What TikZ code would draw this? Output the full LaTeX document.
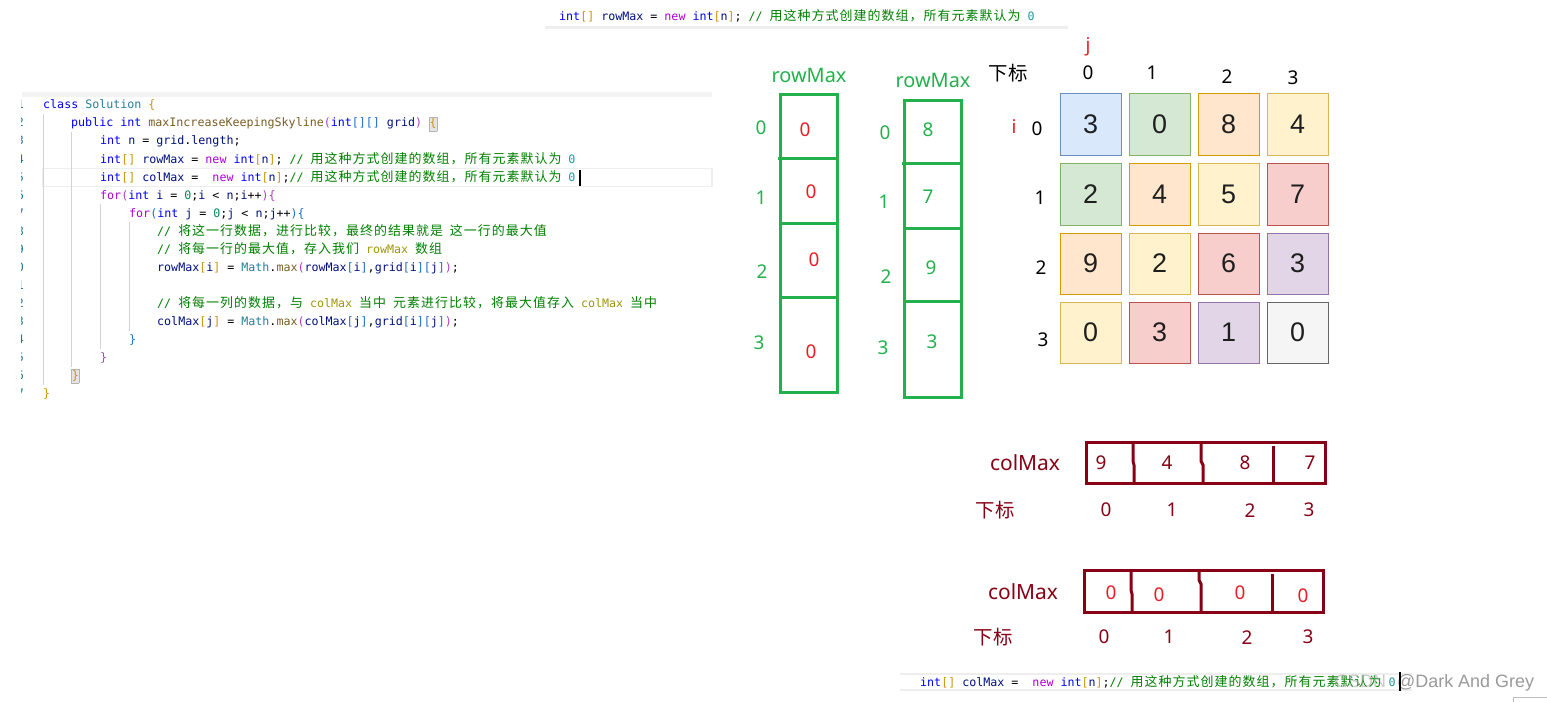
\documentclass[tikz,border=0pt]{standalone}
\usepackage{fontspec}
\newfontfamily\codef{DejaVu Sans Mono}
\newfontfamily\cjkcode[LetterSpace=8]{Noto Sans CJK SC}
\newfontfamily\labf{Noto Sans}
\newfontfamily\cjkf{Noto Sans CJK SC}
\newfontfamily\arialf{Liberation Sans}

\definecolor{colKw}{HTML}{0000FF}
\definecolor{colCtl}{HTML}{AF00DB}
\definecolor{colTy}{HTML}{267F99}
\definecolor{colFn}{HTML}{795E26}
\definecolor{colVa}{HTML}{001080}
\definecolor{colNm}{HTML}{098658}
\definecolor{colNc}{HTML}{1F9AA0}
\definecolor{colCm}{HTML}{008000}
\definecolor{colCv}{HTML}{A0960A}
\definecolor{colBy}{HTML}{C8960A}
\definecolor{colBp}{HTML}{B040C0}
\definecolor{colBb}{HTML}{1A6FD0}
\definecolor{colTxt}{HTML}{000000}
\definecolor{colBmB}{HTML}{B4B4B4}
\definecolor{colBmF}{HTML}{E4E4E4}
\definecolor{colLn}{HTML}{237893}
\definecolor{colGuide}{HTML}{D3D3D3}
\definecolor{colBand}{HTML}{EEEEEE}
\definecolor{pgreen}{HTML}{22B14C}
\definecolor{pred}{HTML}{ED1C24}
\definecolor{pdark}{HTML}{880015}
\definecolor{colWm}{HTML}{9A9A9A}
\definecolor{fBlue}{HTML}{DAE8FC}\definecolor{sBlue}{HTML}{6C8EBF}
\definecolor{fGreen}{HTML}{D5E8D4}\definecolor{sGreen}{HTML}{82B366}
\definecolor{fOrange}{HTML}{FFE6CC}\definecolor{sOrange}{HTML}{D79B00}
\definecolor{fYellow}{HTML}{FFF2CC}\definecolor{sYellow}{HTML}{D6B656}
\definecolor{fRed}{HTML}{F8CECC}\definecolor{sRed}{HTML}{B85450}
\definecolor{fPurple}{HTML}{E1D5E7}\definecolor{sPurple}{HTML}{9673A6}
\definecolor{fGray}{HTML}{F5F5F5}\definecolor{sGray}{HTML}{666666}

\newcommand\ckw[1]{\textcolor{colKw}{#1}}
\newcommand\cctl[1]{\textcolor{colCtl}{#1}}
\newcommand\cty[1]{\textcolor{colTy}{#1}}
\newcommand\cfn[1]{\textcolor{colFn}{#1}}
\newcommand\cva[1]{\textcolor{colVa}{#1}}
\newcommand\cnm[1]{\textcolor{colNm}{#1}}
\newcommand\cnc[1]{\textcolor{colNc}{#1}}
\newcommand\ccm[1]{\textcolor{colCm}{#1}}
\newcommand\ccv[1]{\textcolor{colCv}{#1}}
\newcommand\cby[1]{\textcolor{colBy}{#1}}
\newcommand\cbp[1]{\textcolor{colBp}{#1}}
\newcommand\cbb[1]{\textcolor{colBb}{#1}}
\newcommand\ccj[1]{{\cjkcode\fontsize{13}{14}\selectfont #1}}
\newcommand\bmatch[1]{{\setlength\fboxsep{0pt}\setlength\fboxrule{0.6pt}\fcolorbox{colBmB}{colBmF}{\strut #1}}}

\tikzset{
  code/.style={anchor=base west, inner sep=0pt, text=colTxt,
    font=\codef\fontsize{11.7}{14}\selectfont\frenchspacing},
  lnum/.style={anchor=base east, inner sep=0pt, text=colLn,
    font=\codef\fontsize{11.7}{14}\selectfont},
  guide/.style={draw=colGuide, line width=1bp},
  glab/.style={inner sep=0pt, text=pgreen, font=\labf\fontsize{19}{22}\selectfont},
  gtitle/.style={inner sep=0pt, text=pgreen, font=\labf\fontsize{20}{24}\selectfont},
  rval/.style={inner sep=0pt, text=pred, font=\labf\fontsize{19}{22}\selectfont},
  blab/.style={inner sep=0pt, text=black, font=\labf\fontsize{19}{22}\selectfont},
  ilab/.style={inner sep=0pt, text=pred, font=\labf\fontsize{19}{22}\selectfont},
  cjlab/.style={inner sep=0pt, font=\cjkf\fontsize{19.5}{22}\selectfont},
  dlab/.style={inner sep=0pt, text=pdark, font=\labf\fontsize{19}{22}\selectfont},
  dtitle/.style={inner sep=0pt, text=pdark, font=\labf\fontsize{21}{24}\selectfont},
  garr/.style={draw=pgreen, line width=3bp},
  darr/.style={draw=pdark, line width=3bp},
  cell/.style={minimum width=61bp, minimum height=61bp, inner sep=0pt,
    line width=1bp, text={black!88}, font=\arialf\fontsize{27}{30}\selectfont},
  cblue/.style={fill=fBlue, draw=sBlue},
  cgreen/.style={fill=fGreen, draw=sGreen},
  corange/.style={fill=fOrange, draw=sOrange},
  cyellow/.style={fill=fYellow, draw=sYellow},
  cred/.style={fill=fRed, draw=sRed},
  cpurple/.style={fill=fPurple, draw=sPurple},
  cgray/.style={fill=fGray, draw=sGray},
  wmark/.style={anchor=base west, inner sep=0pt, text=colWm, font=\arialf\fontsize{18}{20}\selectfont},
}

\begin{document}
\begin{tikzpicture}[x=1bp, y=-1bp]
\useasboundingbox (0,0) rectangle (1547,702);
\fill[white] (0,0) rectangle (1547,702);

% ---------- top snippet ----------
\fill[colBand] (545,26) rectangle (1068,29);
\node[code] (topline) at (559,21) {\ckw{int}\cby{[]} \cva{rowMax} = \cctl{new} \ckw{int}\cby{[}\cva{n}\cby{]}; \ccm{// \ccj{用这种方式创建的数组，所有元素默认为}} \cnc{0}};

% ---------- code block ----------
\fill[colBand!70] (22,92) rectangle (712,97);
\draw[colBand, line width=1.5bp] (43,168.5) rectangle (712,186.5);
\draw[guide] (43,114) -- (43,385);
\draw[guide] (71,132) -- (71,367);
\draw[guide] (100,204) -- (100,349);
\draw[guide] (129,222) -- (129,331);

\begin{scope}
\clip (21,90) rectangle (23.5,402);
\foreach \k in {1,...,17}{
  \node[lnum] at (24,{109+18*(\k-1)}) {\k};
}
\end{scope}

\node[code] (c1) at (43,109) {\ckw{class} \cty{Solution} \cby{\{}};
\node[code] (c2) at (71,127) {\ckw{public} \ckw{int} \cfn{maxIncreaseKeepingSkyline}\cbp{(}\ckw{int}\cbb{[][]} \cva{grid}\cbp{)} \bmatch{\cby{\{}}};
\node[code] (c3) at (100,145) {\ckw{int} \cva{n} = \cva{grid}.\cva{length};};
\node[code] (c4) at (100,163) {\ckw{int}\cby{[]} \cva{rowMax} = \cctl{new} \ckw{int}\cby{[}\cva{n}\cby{]}; \ccm{// \ccj{用这种方式创建的数组，所有元素默认为}} \cnc{0}};
\node[code] (c5) at (100,181) {\ckw{int}\cby{[]} \cva{colMax} =\ \ \cctl{new} \ckw{int}\cby{[}\cva{n}\cby{]};\ccm{// \ccj{用这种方式创建的数组，所有元素默认为}} \cnc{0}};
\draw[black, line width=2bp] (580,170) -- (580,186);
\node[code] (c6) at (100,199) {\cctl{for}\cbp{(}\ckw{int} \cva{i} = \cnm{0};\cva{i} < \cva{n};\cva{i}++\cbp{)}\cbp{\{}};
\node[code] (c7) at (129,217) {\cctl{for}\cbb{(}\ckw{int} \cva{j} = \cnm{0};\cva{j} < \cva{n};\cva{j}++\cbb{)}\cbb{\{}};
\node[code] (c8) at (157,235) {\ccm{// \ccj{将这一行数据，进行比较，最终的结果就是} \ccj{这一行的最大值}}};
\node[code] (c9) at (157,253) {\ccm{// \ccj{将每一行的最大值，存入我们} \ccv{rowMax} \ccj{数组}}};
\node[code] (c10) at (157,271) {\cva{rowMax}\cby{[}\cva{i}\cby{]} = \cty{Math}.\cfn{max}\cbp{(}\cva{rowMax}\cbb{[}\cva{i}\cbb{]},\cva{grid}\cbb{[}\cva{i}\cbb{][}\cva{j}\cbb{]}\cbp{)};};
\node[code] (c12) at (157,307) {\ccm{// \ccj{将每一列的数据，与} \ccv{colMax} \ccj{当中} \ccj{元素进行比较，将最大值存入} \ccv{colMax} \ccj{当中}}};
\node[code] (c13) at (157,325) {\cva{colMax}\cby{[}\cva{j}\cby{]} = \cty{Math}.\cfn{max}\cbp{(}\cva{colMax}\cbb{[}\cva{j}\cbb{]},\cva{grid}\cbb{[}\cva{i}\cbb{][}\cva{j}\cbb{]}\cbp{)};};
\node[code] (c14) at (129,343) {\cbb{\}}};
\node[code] (c15) at (100,361) {\cbp{\}}};
\node[code] (c16) at (71,379) {\bmatch{\cby{\}}}};
\node[code] (c17) at (43,397) {\cby{\}}};

% ---------- rowMax (initial) ----------
\node[gtitle] (rmA) at (809,75) {rowMax};
\draw[garr] (780,95) rectangle (837,392);
\draw[garr] (778,158) -- (837,158);
\draw[garr] (780,223) -- (839,223);
\draw[garr] (780,297) -- (837,297);
\node[glab] (ra0) at (761,128) {0};
\node[glab] (ra1) at (761,198) {1};
\node[glab] (ra2) at (762,272) {2};
\node[glab] (ra3) at (759,343) {3};
\node[rval] (va0) at (805,130) {0};
\node[rval] (va1) at (811,192) {0};
\node[rval] (va2) at (814,260) {0};
\node[rval] (va3) at (811,352) {0};

% ---------- rowMax (result) ----------
\node[gtitle] (rmB) at (933,80) {rowMax};
\draw[garr] (904,101) rectangle (961,397);
\draw[garr] (902,163) -- (961,163);
\draw[garr] (904,228) -- (962,228);
\draw[garr] (904,301) -- (961,301);
\node[glab] (rb0) at (885,133) {0};
\node[glab] (rb1) at (884,202) {1};
\node[glab] (rb2) at (886,277) {2};
\node[glab] (rb3) at (883,348) {3};
\node[glab] (vb0) at (928,130) {8};
\node[glab] (vb1) at (928,197) {7};
\node[glab] (vb2) at (931,268) {9};
\node[glab] (vb3) at (932,342) {3};

% ---------- grid ----------
\node[ilab] (jlab) at (1088,47) {j};
\node[cjlab] (xb0) at (1008,73) {下标};
\node[blab] (h0) at (1088,73) {0};
\node[blab] (h1) at (1152,73) {1};
\node[blab] (h2) at (1227,77) {2};
\node[blab] (h3) at (1293,78) {3};
\node[ilab] (ilab) at (1014,127) {i};
\node[blab] (r0) at (1037,129) {0};
\node[blab] (r1) at (1040,198) {1};
\node[blab] (r2) at (1041,268) {2};
\node[blab] (r3) at (1043,340) {3};

\node[cell,cblue]   (g00) at (1090.5,124.5) {3};
\node[cell,cgreen]  (g01) at (1159.5,124.5) {0};
\node[cell,corange] (g02) at (1228.5,124.5) {8};
\node[cell,cyellow] (g03) at (1297.5,124.5) {4};
\node[cell,cgreen]  (g10) at (1090.5,194.5) {2};
\node[cell,corange] (g11) at (1159.5,194.5) {4};
\node[cell,cyellow] (g12) at (1228.5,194.5) {5};
\node[cell,cred]    (g13) at (1297.5,194.5) {7};
\node[cell,corange] (g20) at (1090.5,263.5) {9};
\node[cell,cyellow] (g21) at (1159.5,263.5) {2};
\node[cell,cred]    (g22) at (1228.5,263.5) {6};
\node[cell,cpurple] (g23) at (1297.5,263.5) {3};
\node[cell,cyellow] (g30) at (1090.5,332.5) {0};
\node[cell,cred]    (g31) at (1159.5,332.5) {3};
\node[cell,cpurple] (g32) at (1228.5,332.5) {1};
\node[cell,cgray]   (g33) at (1297.5,332.5) {0};

% ---------- colMax (result) ----------
\node[dtitle] (cmA) at (1025,463) {colMax};
\draw[darr] (1086,442) rectangle (1325,483);
\draw[darr] (1133,442) -- (1133,461) -- (1134,465) -- (1134,483);
\draw[darr] (1201,442) -- (1201,461) -- (1203,465) -- (1203,483);
\draw[darr] (1273,446) -- (1273,483);
\node[dlab] (ca0) at (1101,463) {9};
\node[dlab] (ca1) at (1167,463) {4};
\node[dlab] (ca2) at (1245,463) {8};
\node[dlab] (ca3) at (1310,463) {7};
\node[cjlab, text=pdark] (xb1) at (995,510) {下标};
\node[dlab] (ia0) at (1106,510) {0};
\node[dlab] (ia1) at (1172,510) {1};
\node[dlab] (ia2) at (1250,511) {2};
\node[dlab] (ia3) at (1309,510) {3};

% ---------- colMax (initial) ----------
\node[dtitle] (cmB) at (1023,592) {colMax};
\draw[darr] (1084,570) rectangle (1323,612);
\draw[darr] (1131,570) -- (1131,590) -- (1132,594) -- (1132,612);
\draw[darr] (1199,570) -- (1199,580) -- (1201,584) -- (1201,612);
\draw[darr] (1272,574) -- (1272,612);
\node[rval] (cb0) at (1111,593) {0};
\node[rval] (cb1) at (1159,595) {0};
\node[rval] (cb2) at (1240,593) {0};
\node[rval] (cb3) at (1303,596) {0};
\node[cjlab, text=pdark] (xb2) at (993,637) {下标};
\node[dlab] (ib0) at (1104,637) {0};
\node[dlab] (ib1) at (1169,637) {1};
\node[dlab] (ib2) at (1247,638) {2};
\node[dlab] (ib3) at (1308,637) {3};

% ---------- bottom snippet ----------
\draw[colBand, line width=2bp] (900,674) -- (1412,674);
\draw[colBand, line width=2bp] (900,690) -- (1412,690);
\node[code] (botline) at (920,686) {\ckw{int}\cby{[]} \cva{colMax} =\ \ \cctl{new} \ckw{int}\cby{[}\cva{n}\cby{]};\ccm{// \ccj{用这种方式创建的数组，所有元素默认为}} \cnc{0}};
\node[wmark, opacity=0.5] (wm1) at (1335,687) {CSDN};
\node[wmark] (wm2) at (1397,687) {@Dark And Grey};
\draw[black, line width=2bp] (1400,672) -- (1400,691);
\draw[colBand!80!black, line width=1bp] (1513,702) -- (1513,697) -- (1547,697);
\end{tikzpicture}
\end{document}
